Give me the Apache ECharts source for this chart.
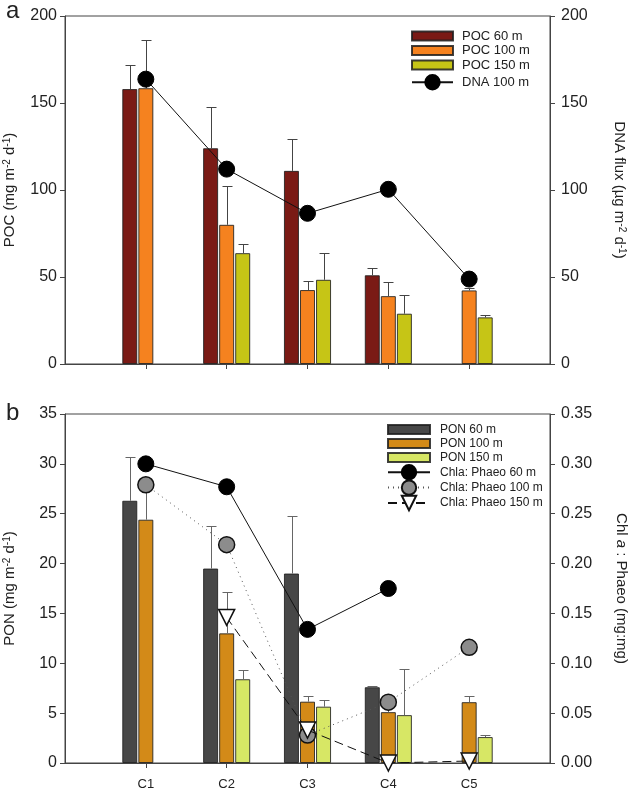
<!DOCTYPE html>
<html>
<head>
<meta charset="utf-8">
<script src="https://cdn.jsdelivr.net/npm/echarts@6/dist/echarts.min.js"></script>
<style>
  html, body { margin: 0; padding: 0; background: #fff; }
  #chart { width: 631px; height: 788px; }
</style>
</head>
<body>
<div id="chart"></div>
<script>
// stations along the x axis
var stations = ['C1', 'C2', 'C3', 'C4', 'C5'];

// panel a : POC flux (mg m-2 d-1), mean and sd
var poc60 = [158, 124, 111, 51, null];
var poc60Sd = [14, 23.5, 18.5, 4, null];
var poc100 = [158.5, 80, 42.5, 39, 42.3];
var poc100Sd = [27.7, 22.3, 5, 8, 1.2];
var poc150 = [null, 63.7, 48.4, 28.9, 26.8];
var poc150Sd = [null, 5.3, 15.3, 10.7, 1.1];
// DNA flux at 100 m (ug m-2 d-1)
var dna100 = [163.7, 112, 86.6, 100.4, 48.8];

// panel b : PON flux (mg m-2 d-1), mean and sd
var pon60 = [26.3, 19.5, 19.0, 7.6, null];
var pon60Sd = [4.4, 4.3, 5.8, 0.15, null];
var pon100 = [24.4, 13.0, 6.15, 5.1, 6.1];
var pon100Sd = [3.6, 4.1, 0.55, 0.9, 0.65];
var pon150 = [null, 8.4, 5.65, 4.8, 2.6];
var pon150Sd = [null, 0.9, 0.65, 4.6, 0.2];
// Chl a : Phaeo ratio (mg:mg)
var chla60 = [0.300, 0.277, 0.134, 0.175, null];
var chla100 = [0.279, 0.219, 0.028, 0.061, 0.116];
var chla150 = [null, 0.146, 0.033, 0.000, 0.002];

var leftTicks = { a: [0, 200, 50], b: [0, 35, 5] };
var rightTicks = { a: [0, 200, 50], b: [0, 0.35, 0.05] };

// one empty slot on each side so C1..C5 sit at 1..5 of 6
function pad(arr) { return [null].concat(arr, [null]); }
var cats = pad(stations).map(function (c) { return c || ''; });

var FONT = 'Liberation Sans';
var TXT = '#222';
var AX = '#444';

function errSeries(means, sds, xi, yi, offset, color) {
  var d = [];
  means.forEach(function (m, i) {
    if (m != null && sds[i] != null) d.push([i + 1, m, m + sds[i]]);
  });
  return {
    type: 'custom', xAxisIndex: xi, yAxisIndex: yi, data: d, silent: true, z: 3,
    renderItem: function (params, api) {
      var b = api.coord([api.value(0), api.value(1)]);
      var t = api.coord([api.value(0), api.value(2)]);
      var x = Math.round(b[0] + offset) + 0.5;
      var yt = Math.round(t[1]) + 0.5;
      return {
        type: 'group',
        children: [
          { type: 'line', shape: { x1: x, y1: b[1], x2: x, y2: yt }, style: { stroke: color, lineWidth: 1 } },
          { type: 'line', shape: { x1: x - 5, y1: yt, x2: x + 5, y2: yt }, style: { stroke: color, lineWidth: 1 } }
        ]
      };
    }
  };
}

function bar(name, data, color, xi, yi) {
  return {
    name: name, type: 'bar', xAxisIndex: xi, yAxisIndex: yi, data: pad(data),
    barWidth: 15, barGap: '7%', z: 2,
    itemStyle: { color: color, borderColor: 'rgba(30,30,30,0.85)', borderWidth: 1 }
  };
}

function yAx(grid, pos, t, name, gap, rot, fmt) {
  return {
    type: 'value', gridIndex: grid, position: pos, min: t[0], max: t[1], interval: t[2],
    splitLine: { show: false },
    axisLine: { show: true, lineStyle: { color: AX, width: 1 } },
    axisTick: { show: true, length: 5, lineStyle: { color: AX } },
    axisLabel: { fontSize: 16, color: TXT, fontFamily: FONT, margin: pos === 'left' ? 8 : 11, formatter: fmt },
    name: name, nameLocation: 'middle', nameGap: gap, nameRotate: rot,
    nameTextStyle: {
      fontSize: 15, color: TXT, fontFamily: FONT,
      rich: {
        sup: { fontSize: 10, verticalAlign: 'top', color: TXT, fontFamily: FONT },
        it: { fontSize: 15, fontStyle: 'italic', color: TXT, fontFamily: FONT }
      }
    }
  };
}

function xAx(grid, showLabel) {
  return {
    type: 'category', gridIndex: grid, data: cats, boundaryGap: false,
    axisLine: { show: true, lineStyle: { color: AX, width: 1 } },
    axisTick: { show: true, length: 5, lineStyle: { color: AX },
      interval: function (i) { return i > 0 && i < cats.length - 1; } },
    axisLabel: { show: showLabel, fontSize: 13, color: TXT, fontFamily: FONT, margin: 15, interval: 0 },
    splitLine: { show: false }
  };
}

var legendText = { fontSize: 13, lineHeight: 13, color: TXT, fontFamily: FONT, padding: [0, 0, 0, 4] };
var legendTextB = { fontSize: 12, lineHeight: 13, color: TXT, fontFamily: FONT, padding: [0, 0, 0, 5] };

var option = {
  animation: false,
  backgroundColor: '#fff',
  title: [
    { text: 'a', left: 1, top: -6, textStyle: { fontSize: 24, fontWeight: 'normal', color: TXT, fontFamily: FONT } },
    { text: 'b', left: 1, top: 396, textStyle: { fontSize: 24, fontWeight: 'normal', color: TXT, fontFamily: FONT } }
  ],
  grid: [
    { left: 65, right: 81, top: 16, bottom: 424, outerBoundsMode: 'none', show: true,
      borderColor: AX, borderWidth: 1, backgroundColor: 'transparent' },
    { left: 65, right: 81, top: 414, bottom: 25, outerBoundsMode: 'none', show: true,
      borderColor: AX, borderWidth: 1, backgroundColor: 'transparent' }
  ],
  xAxis: [xAx(0, false), xAx(1, true)],
  yAxis: [
    yAx(0, 'left', leftTicks.a, 'POC (mg m{sup|-2} d{sup|-1})', 48),
    yAx(0, 'right', rightTicks.a, 'DNA flux (\u00b5g m{sup|-2} d{sup|-1})', 62, -90),
    yAx(1, 'left', leftTicks.b, 'PON (mg m{sup|-2} d{sup|-1})', 48),
    yAx(1, 'right', rightTicks.b, 'Chl {it|a} : Phaeo (mg:mg)', 64, -90, function (v) { return v.toFixed(2); })
  ],
  legend: [
    { orient: 'vertical', left: 411, top: 29.5, padding: 0, itemWidth: 41, itemHeight: 9, itemGap: 1.5, icon: 'rect',
      selectedMode: false, textStyle: legendText, data: ['POC 60 m', 'POC 100 m', 'POC 150 m'] },
    { orient: 'vertical', left: 411, top: 74, padding: 0, itemWidth: 41, itemHeight: 18, itemGap: 0,
      selectedMode: false, textStyle: legendText, data: ['DNA 100 m'] },
    { orient: 'vertical', left: 387, top: 423, padding: 0, itemWidth: 42, itemHeight: 9, itemGap: 1, icon: 'rect',
      selectedMode: false, textStyle: legendTextB, data: ['PON 60 m', 'PON 100 m', 'PON 150 m'] },
    { orient: 'vertical', left: 387, top: 464, padding: 0, itemWidth: 42, itemHeight: 18, itemGap: -1,
      selectedMode: false, textStyle: legendTextB, data: ['Chla: Phaeo 60 m', 'Chla: Phaeo 100 m', 'Chla: Phaeo 150 m'] }
  ],
  series: [
    bar('POC 60 m', poc60, '#7A1A15', 0, 0),
    bar('POC 100 m', poc100, '#F5821F', 0, 0),
    bar('POC 150 m', poc150, '#C6C516', 0, 0),
    errSeries(poc60, poc60Sd, 0, 0, -16, '#444'),
    errSeries(poc100, poc100Sd, 0, 0, 0, '#444'),
    errSeries(poc150, poc150Sd, 0, 0, 16, '#444'),
    {
      name: 'DNA 100 m', type: 'line', xAxisIndex: 0, yAxisIndex: 1, data: pad(dna100), z: 5,
      symbol: 'circle', symbolSize: 16,
      lineStyle: { color: '#111', width: 1 },
      itemStyle: { color: '#000', borderColor: '#000', borderWidth: 1 }
    },

    bar('PON 60 m', pon60, '#474747', 1, 2),
    bar('PON 100 m', pon100, '#D38A18', 1, 2),
    bar('PON 150 m', pon150, '#D7E765', 1, 2),
    errSeries(pon60, pon60Sd, 1, 2, -16, '#666'),
    errSeries(pon100, pon100Sd, 1, 2, 0, '#666'),
    errSeries(pon150, pon150Sd, 1, 2, 16, '#666'),
    {
      name: 'Chla: Phaeo 60 m', type: 'line', xAxisIndex: 1, yAxisIndex: 3, data: pad(chla60), z: 5,
      symbol: 'circle', symbolSize: 16,
      lineStyle: { color: '#111', width: 1 },
      itemStyle: { color: '#000', borderColor: '#000', borderWidth: 1 }
    },
    {
      name: 'Chla: Phaeo 100 m', type: 'line', xAxisIndex: 1, yAxisIndex: 3, data: pad(chla100), z: 5,
      symbol: 'circle', symbolSize: 16,
      lineStyle: { color: '#555', width: 1, type: [1, 4] },
      itemStyle: { color: '#8C8C8C', borderColor: '#111', borderWidth: 1.5 }
    },
    {
      name: 'Chla: Phaeo 150 m', type: 'line', xAxisIndex: 1, yAxisIndex: 3, data: pad(chla150), z: 6,
      symbol: 'triangle', symbolRotate: 180, symbolSize: 16,
      lineStyle: { color: '#111', width: 1, type: [9, 5] },
      itemStyle: { color: '#fff', borderColor: '#111', borderWidth: 1.5 }
    }
  ]
};

var myChart = echarts.init(document.getElementById('chart'));
myChart.setOption(option);
</script>
</body>
</html>
